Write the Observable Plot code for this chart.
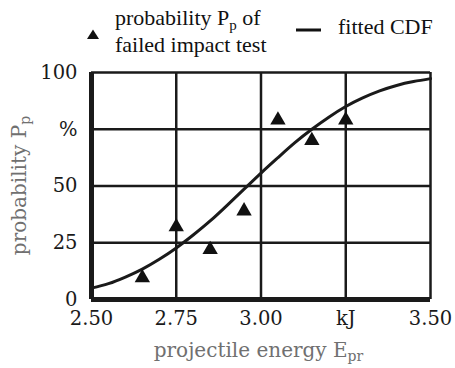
<!DOCTYPE html>
<html>
<head>
<meta charset="utf-8">
<script src="https://cdn.jsdelivr.net/npm/d3@7"></script>
<script src="https://cdn.jsdelivr.net/npm/@observablehq/plot@0.6"></script>
</head>
<body style="margin:0;font-size:22px;background:#fff">
<svg style="position:absolute;left:86px;top:29px" width="14" height="11"><polygon points="7,0.5 13,10 1,10" fill="#111"/></svg>
<div style="position:absolute;left:115px;top:4.7px;font-family:'Liberation Serif';font-size:22px;color:#111;white-space:nowrap">probability P<span style="font-size:15px;position:relative;top:5px">p</span> of</div>
<div style="position:absolute;left:115px;top:32.1px;font-family:'Liberation Serif';font-size:22px;color:#111;white-space:nowrap">failed impact test</div>
<svg style="position:absolute;left:296px;top:28px" width="26" height="4"><rect x="0" y="0.5" width="25" height="3" fill="#111"/></svg>
<div style="position:absolute;left:338px;top:14.4px;font-family:'Liberation Serif';font-size:22px;color:#111;white-space:nowrap">fitted CDF</div>
<div id="c" style="position:absolute;left:0;top:62px"></div>
<script>
// measured points: probability of failed impact test
const energy = [2.65, 2.75, 2.85, 2.95, 3.05, 3.15, 3.25];
const probability = [9.5, 32, 22, 39, 79, 70, 79];

// fitted CDF
const cdfEnergy = [2.50, 2.55, 2.60, 2.65, 2.70, 2.75, 2.80, 2.85, 2.90, 2.95, 3.00, 3.05, 3.10, 3.15, 3.20, 3.25, 3.30, 3.35, 3.40, 3.45, 3.50];
const cdfProb   = [5.0, 7.0, 9.9, 13.4, 17.7, 22.7, 28.4, 34.6, 41.5, 48.6, 55.7, 62.5, 69.1, 75.0, 80.3, 85.0, 88.8, 91.9, 94.3, 96.0, 97.3];

const xTicks = [2.50, 2.75, 3.00, 3.25, 3.50];
const xTickLabels = ["2.50", "2.75", "3.00", "kJ", "3.50"];
const yTicks = [0, 25, 50, 75, 100];
const yTickLabels = ["0", "25", "50", "%", "100"];

const points = energy.map((e, i) => ({e, p: probability[i]}));
const curve = cdfEnergy.map((e, i) => ({e, p: cdfProb[i]}));

const ink = "#1a1a1a";

const plot = Plot.plot({
  width: 455,
  height: 306,
  marginLeft: 91,
  marginRight: 25,
  marginTop: 10,
  marginBottom: 69,
  style: { fontFamily: "'DejaVu Serif'", fontSize: "19.5px", color: ink },
  x: { domain: [2.5, 3.5] },
  y: { domain: [0, 100] },
  marks: [
    Plot.ruleX(xTicks.slice(1), { stroke: ink, strokeWidth: 2.5 }),
    Plot.ruleY(yTicks.slice(1), { stroke: ink, strokeWidth: 2.5 }),
    Plot.ruleX([2.5], { stroke: ink, strokeWidth: 5 }),
    Plot.ruleY([0], { stroke: ink, strokeWidth: 5 }),
    Plot.line(curve, { x: "e", y: "p", curve: "natural", stroke: ink, strokeWidth: 3 }),
    Plot.dot(points, { x: "e", y: "p", symbol: "triangle", r: 5.7, fill: "#111", stroke: "none" }),
    Plot.axisX(xTicks, { tickSize: 0, tickPadding: 12, tickFormat: (d) => xTickLabels[xTicks.indexOf(d)], label: null, fontFamily: "DejaVu Serif", fontSize: 19.5 }),
    Plot.axisY(yTicks, { tickSize: 0, tickPadding: 14, tickFormat: (d) => yTickLabels[yTicks.indexOf(d)], label: null, fontFamily: "DejaVu Serif", fontSize: 19.5 })
  ]
});

document.getElementById("c").appendChild(plot);

const svg = d3.select(plot);
const labelColor = "#707070";
const xs = plot.scale("x"), ys = plot.scale("y");
const xMid = (xs.apply(2.5) + xs.apply(3.5)) / 2 - 2;
const yMid = (ys.apply(0) + ys.apply(100)) / 2;

const xl = svg.append("text")
  .attr("x", xMid).attr("y", 295)
  .attr("text-anchor", "middle")
  .attr("font-family", "DejaVu Serif")
  .attr("font-size", 20)
  .attr("fill", labelColor);
xl.append("tspan").text("projectile energy E");
xl.append("tspan").attr("dy", 4).attr("font-size", 14).text("pr");

const yl = svg.append("text")
  .attr("transform", `translate(26,${yMid}) rotate(-90)`)
  .attr("text-anchor", "middle")
  .attr("font-family", "DejaVu Serif")
  .attr("font-size", 20)
  .attr("fill", labelColor);
yl.append("tspan").text("probability P");
yl.append("tspan").attr("dy", 4).attr("font-size", 14).text("p");
</script>
</body>
</html>
